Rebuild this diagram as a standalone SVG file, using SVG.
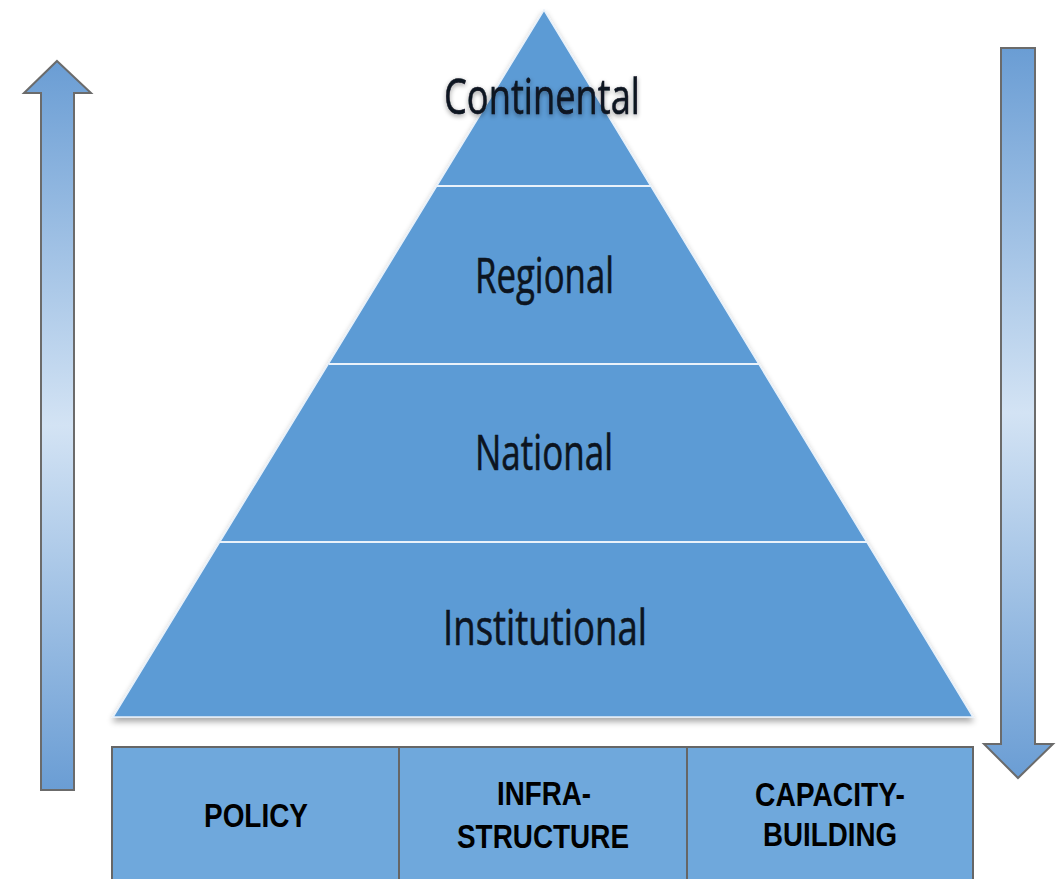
<svg xmlns="http://www.w3.org/2000/svg" width="1063" height="879" viewBox="0 0 1063 879">
  <defs>
    <linearGradient id="arrowGrad" x1="0" y1="0" x2="0" y2="1">
      <stop offset="0" stop-color="#6a9dd4"/>
      <stop offset="0.5" stop-color="#d3e3f4"/>
      <stop offset="1" stop-color="#6a9dd4"/>
    </linearGradient>
    <filter id="shadow" x="-10%" y="-10%" width="120%" height="130%">
      <feGaussianBlur in="SourceAlpha" stdDeviation="3"/>
      <feOffset dx="0" dy="4"/>
      <feComponentTransfer><feFuncA type="linear" slope="0.35"/></feComponentTransfer>
      <feMerge><feMergeNode/><feMergeNode in="SourceGraphic"/></feMerge>
    </filter>
    <filter id="glow" x="-10%" y="-20%" width="120%" height="140%">
      <feGaussianBlur in="SourceAlpha" stdDeviation="2.5"/>
      <feOffset dx="0" dy="2"/>
      <feComponentTransfer><feFuncA type="linear" slope="0.4"/></feComponentTransfer>
      <feMerge><feMergeNode/><feMergeNode in="SourceGraphic"/></feMerge>
    </filter>
    <style>
      .arrow { fill: url(#arrowGrad); stroke: #6b6b6b; stroke-width: 2; }
      .tier { fill: #5b9bd5; }
      .divider { stroke: #eaf2fa; stroke-width: 2; }
      .tierText { font-family: "Open Sans", "Noto Sans", sans-serif; font-size: 50px; fill: #0c1420; stroke: #0c1420; stroke-width: 0.6; text-anchor: start; }
      .box { fill: #6fa8dc; stroke: #666666; stroke-width: 2; }
      .boxText { font-family: "Liberation Sans", Arial, sans-serif; font-weight: bold; font-size: 33px; fill: #000000; }
    </style>
  </defs>

  <g id="arrow-up">
    <polygon class="arrow" points="57,61 91,93 74,93 74,790 41,790 41,93 24,93"/>
  </g>
  <g id="arrow-down">
    <polygon class="arrow" points="1001,48 1035,48 1035,744 1053,744 1018,778 984,744 1001,744"/>
  </g>

  <g id="pyramid" filter="url(#shadow)">
    <polygon class="tier" points="544,10 973,717 113,717" stroke="#e8f1fa" stroke-width="1.5"/>
  </g>

  <g id="connectors">
    <line class="divider" x1="437" y1="186" x2="651" y2="186"/>
    <line class="divider" x1="329" y1="364" x2="759" y2="364"/>
    <line class="divider" x1="220" y1="542" x2="868" y2="542"/>
  </g>

  <g id="tier-continental">
    <text class="tierText" x="444" y="114" textLength="196" lengthAdjust="spacingAndGlyphs" filter="url(#glow)">Continental</text>
  </g>
  <g id="tier-regional">
    <text class="tierText" x="475" y="293" textLength="139" lengthAdjust="spacingAndGlyphs">Regional</text>
  </g>
  <g id="tier-national">
    <text class="tierText" x="475" y="470" textLength="138" lengthAdjust="spacingAndGlyphs">National</text>
  </g>
  <g id="tier-institutional">
    <text class="tierText" x="443" y="645" textLength="204" lengthAdjust="spacingAndGlyphs">Institutional</text>
  </g>

  <g id="box-policy">
    <rect class="box" x="112" y="747" width="287" height="140"/>
    <text class="boxText" x="204" y="827" textLength="104" lengthAdjust="spacingAndGlyphs">POLICY</text>
  </g>
  <g id="box-infrastructure">
    <rect class="box" x="399" y="747" width="288" height="140"/>
    <text class="boxText" x="497" y="805" textLength="94" lengthAdjust="spacingAndGlyphs">INFRA-</text>
    <text class="boxText" x="457" y="848" textLength="172" lengthAdjust="spacingAndGlyphs">STRUCTURE</text>
  </g>
  <g id="box-capacity">
    <rect class="box" x="687" y="747" width="286" height="140"/>
    <text class="boxText" x="755" y="806" textLength="150" lengthAdjust="spacingAndGlyphs">CAPACITY-</text>
    <text class="boxText" x="763" y="846" textLength="134" lengthAdjust="spacingAndGlyphs">BUILDING</text>
  </g>
</svg>
